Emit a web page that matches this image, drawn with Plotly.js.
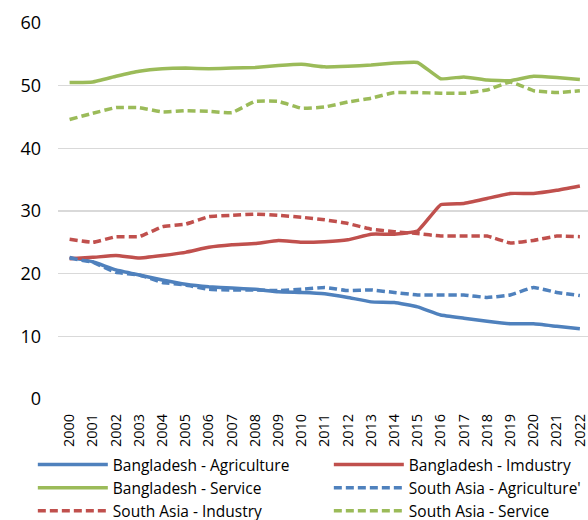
<!DOCTYPE html>
<html><head><meta charset="utf-8">
<script src="https://cdn.plot.ly/plotly-3.0.1.min.js"></script>
<style>html,body{margin:0;padding:0;background:#fff;overflow:hidden}#wrap{width:588px;height:520px;overflow:hidden}</style>
</head><body><div id="wrap"><div id="chart" style="width:588px;height:531px"></div></div>
<script>
var years = ["2000","2001","2002","2003","2004","2005","2006","2007","2008","2009","2010","2011","2012","2013","2014","2015","2016","2017","2018","2019","2020","2021","2022"];
var bdAgriculture = [22.6,21.9,20.6,19.8,19.0,18.3,17.9,17.7,17.5,17.1,17.0,16.8,16.2,15.5,15.4,14.7,13.4,12.9,12.4,12.0,12.0,11.6,11.2];
var bdIndustry    = [22.4,22.6,22.9,22.5,22.9,23.4,24.2,24.6,24.8,25.3,25.0,25.1,25.4,26.3,26.3,26.8,31.0,31.2,32.0,32.8,32.8,33.3,34.0];
var bdService     = [50.5,50.6,51.5,52.3,52.7,52.8,52.7,52.8,52.9,53.2,53.4,53.0,53.1,53.3,53.6,53.7,51.1,51.4,50.9,50.8,51.5,51.3,51.0];
var saAgriculture = [22.5,21.8,20.2,19.8,18.6,18.2,17.5,17.4,17.4,17.3,17.5,17.8,17.3,17.4,17.0,16.6,16.6,16.6,16.2,16.6,17.8,17.0,16.5];
var saIndustry    = [25.5,25.0,25.9,25.9,27.5,27.9,29.1,29.3,29.5,29.3,29.0,28.6,28.0,27.1,26.7,26.4,26.0,26.0,26.0,24.9,25.3,26.0,25.9];
var saService     = [44.6,45.6,46.5,46.5,45.8,46.0,45.9,45.7,47.5,47.5,46.4,46.6,47.4,48.0,48.9,48.9,48.8,48.8,49.3,50.6,49.2,48.9,49.2];
var seriesNames = ["Bangladesh - Agriculture","Bangladesh - Imdustry","Bangladesh - Service","South Asia - Agriculture'","South Asia - Industry","South Asia - Service"];
var yTicks = [0,10,20,30,40,50,60];

var blue="#4F81BD", red="#C0504D", green="#9BBB59";
var dashStyle="8px,4px";
function tr(y,name,color,dash,leg){
  return {x:years,y:y,name:name,type:"scatter",mode:"lines",legend:leg,
    line:{color:color,width:3.5,dash:dash,shape:"spline",smoothing:0.3},hoverinfo:"skip"};
}
var data=[
  tr(bdAgriculture,seriesNames[0],blue,"solid","legend"),
  tr(bdIndustry,seriesNames[1],red,"solid","legend2"),
  tr(bdService,seriesNames[2],green,"solid","legend"),
  tr(saAgriculture,seriesNames[3],blue,dashStyle,"legend2"),
  tr(saIndustry,seriesNames[4],red,dashStyle,"legend"),
  tr(saService,seriesNames[5],green,dashStyle,"legend2")
];
var fontFam="'Open Sans', 'DejaVu Sans', sans-serif";
var legBase={orientation:"v",xanchor:"left",y:-0.343,yanchor:"bottom",
    font:{size:15.5,color:"#000"},tracegroupgap:0,itemwidth:70,bgcolor:"rgba(0,0,0,0)",traceorder:"normal"};
var layout={
  width:588,height:531,
  margin:{l:58,r:0,t:23,b:132},
  paper_bgcolor:"#fff",plot_bgcolor:"#fff",
  font:{family:fontFam,color:"#000"},
  showlegend:true,
  xaxis:{type:"category",range:[-0.5,22.35],tickangle:-90,tickfont:{size:14.5,color:"#000"},
    showgrid:false,zeroline:false,showline:false,ticks:"",ticklabelstandoff:11,fixedrange:true},
  yaxis:{range:[0,60],tickvals:yTicks,ticktext:yTicks.map(String),tickfont:{size:18,color:"#000"},
    showgrid:true,gridcolor:"#D9D9D9",gridwidth:1.5,zeroline:false,showline:false,ticks:"",
    ticklabelstandoff:16,fixedrange:true},
  legend:Object.assign({},legBase,{x:-0.0475}),
  legend2:Object.assign({},legBase,{x:0.511})
};
Plotly.newPlot("chart",data,layout,{displayModeBar:false,staticPlot:true});
</script></body></html>
